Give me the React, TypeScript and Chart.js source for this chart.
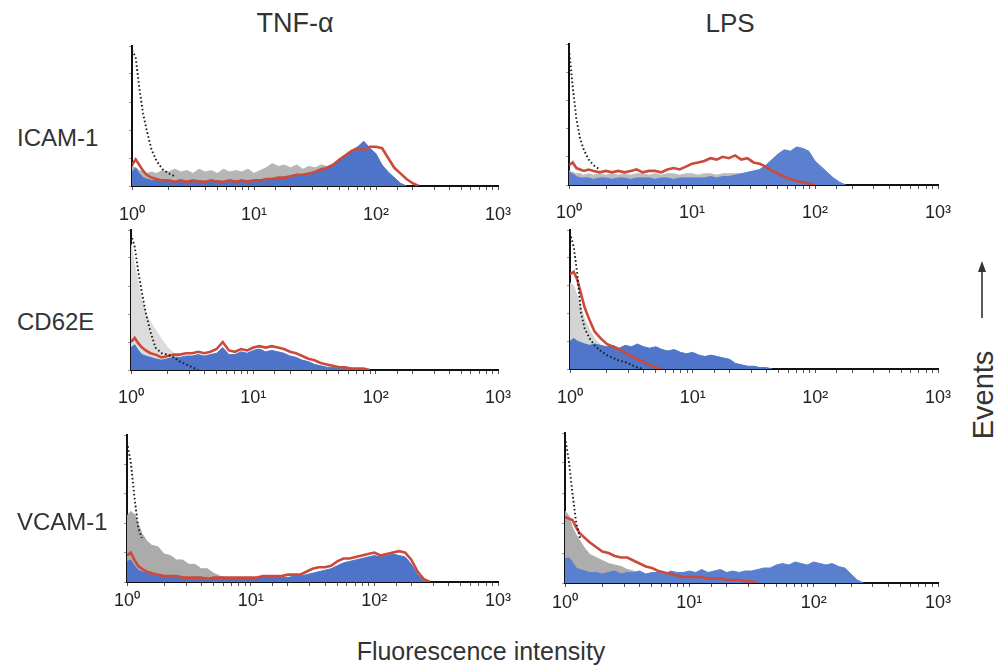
import React, { useEffect, useRef } from 'react';
import { Chart, registerables } from 'chart.js';
Chart.register(...registerables);

const FONT = "'Liberation Sans', Arial, Helvetica, sans-serif";

// log10 positions of histogram bins (x = 10^bin)
const BIN_LOG = [0, 0.03, 0.06, 0.09, 0.12, 0.16, 0.2, 0.25, 0.3, 0.35, 0.4, 0.45, 0.5, 0.55, 0.6, 0.65, 0.7, 0.75, 0.8, 0.85, 0.9, 0.95, 1.0, 1.05, 1.1, 1.15, 1.2, 1.25, 1.3, 1.35, 1.4, 1.45, 1.5, 1.55, 1.6, 1.65, 1.7, 1.75, 1.8, 1.85, 1.9, 1.95, 2.0, 2.05, 2.1, 2.15, 2.2, 2.25, 2.3, 2.35, 2.4, 2.45, 2.5];

const TICK_VALUES = [1, 10, 100, 1000];
const TICK_LABELS = ['10\u2070', '10\u00B9', '10\u00B2', '10\u00B3'];

const COLUMN_TITLES = ['TNF-\u03B1', 'LPS'];
const ROW_LABELS = ['ICAM-1', 'CD62E', 'VCAM-1'];
const X_TITLE = 'Fluorescence intensity';
const Y_TITLE = 'Events';

// ICAM-1 / TNF-α
const TL_DOT = [97, 92, 70, 52, 40, 26, 18, 12, 9, 7];
const TL_GREY = [14, 13, 11, 10, 9, 10, 9, 11, 10, 12, 10, 11, 9, 12, 10, 11, 9, 12, 10, 11, 10, 12, 9, 11, 13, 16, 14, 15, 13, 15, 12, 14, 13, 15, 14, 16, 19, 22, 25, 27, 28, 25, 21, 14, 8, 3, 0];
const TL_BLUE = [10, 13, 9, 6, 5, 4, 4, 3, 4, 3, 4, 3, 3, 4, 3, 3, 4, 3, 3, 4, 3, 4, 4, 4, 5, 5, 6, 6, 7, 7, 8, 9, 10, 11, 13, 16, 19, 22, 25, 28, 32, 27, 23, 15, 10, 6, 2, 0];
const TL_RED = [15, 19, 15, 11, 8, 6, 5, 4, 4, 3, 4, 3, 4, 3, 3, 4, 3, 3, 4, 3, 4, 3, 4, 4, 5, 5, 6, 6, 7, 8, 8, 9, 10, 12, 13, 15, 19, 22, 25, 27, 26, 28, 28, 27, 20, 13, 9, 5, 2, 0];

// ICAM-1 / LPS
const TR_DOT = [96, 70, 47, 33, 25, 18, 14, 11];
const TR_GREY = [10, 9, 8, 8, 7, 8, 7, 8, 7, 8, 7, 8, 7, 8, 8, 7, 8, 7, 8, 8, 7, 8, 8, 7, 8, 8, 7, 8, 8, 8, 8, 7, 7, 6, 5, 4, 2, 0];
const TR_BLUE = [9, 8, 6, 5, 5, 5, 4, 5, 5, 4, 5, 5, 4, 5, 5, 5, 4, 5, 5, 4, 5, 5, 5, 5, 5, 6, 5, 6, 6, 7, 8, 9, 10, 11, 14, 18, 22, 25, 24, 27, 26, 24, 17, 13, 9, 5, 2, 0];
const TR_RED = [14, 16, 12, 11, 10, 11, 10, 9, 10, 9, 10, 9, 10, 11, 9, 10, 10, 9, 11, 12, 11, 13, 15, 16, 17, 19, 18, 20, 19, 21, 18, 19, 16, 15, 13, 10, 8, 6, 4, 3, 2, 1, 0];

// CD62E / TNF-α
const ML_DOT = [97, 88, 70, 55, 41, 27, 16, 12, 11, 9, 6, 4, 2, 0];
const ML_GREY = [90, 75, 62, 50, 41, 34, 29, 22, 16, 12, 9, 7, 5, 4, 3, 2, 0];
const ML_BLUE = [16, 18, 14, 11, 10, 9, 8, 7, 8, 9, 9, 10, 10, 11, 10, 11, 12, 16, 11, 11, 13, 12, 14, 15, 13, 14, 13, 12, 10, 9, 7, 6, 4, 3, 2, 2, 1, 1, 0];
const ML_RED = [20, 23, 19, 16, 14, 12, 11, 9, 10, 11, 11, 12, 12, 13, 12, 13, 15, 20, 14, 13, 15, 14, 16, 17, 16, 17, 16, 15, 13, 12, 10, 8, 7, 5, 4, 3, 2, 2, 1, 1, 1, 0];

// CD62E / LPS
const MR_DOT = [98, 88, 68, 40, 29, 22, 17, 13, 10, 8, 6, 5, 3, 1, 0];
const MR_GREY = [62, 60, 52, 44, 36, 28, 22, 17, 13, 10, 8, 6, 4, 3, 2, 0];
const MR_BLUE = [20, 22, 20, 19, 18, 17, 18, 17, 16, 17, 15, 17, 16, 18, 16, 15, 16, 14, 13, 14, 12, 11, 12, 10, 9, 10, 9, 8, 7, 4, 3, 2, 2, 1, 1, 0];
const MR_RED = [68, 70, 64, 54, 44, 35, 27, 22, 18, 16, 14, 12, 9, 7, 5, 3, 1, 0];

// VCAM-1 / TNF-α
const BL_DOT = [95, 82, 58, 37, 30];
const BL_GREY = [45, 48, 46, 40, 33, 28, 25, 24, 19, 18, 15, 15, 12, 12, 9, 9, 6, 4, 3, 1, 0];
const BL_BLUE = [14, 15, 11, 8, 7, 6, 5, 4, 3, 3, 3, 3, 2, 3, 3, 3, 2, 3, 3, 3, 3, 3, 3, 3, 3, 3, 3, 3, 3, 4, 4, 5, 6, 7, 8, 9, 11, 13, 14, 15, 16, 17, 18, 17, 18, 19, 18, 17, 12, 5, 1, 0];
const BL_RED = [18, 20, 15, 11, 9, 7, 6, 5, 4, 4, 4, 3, 3, 3, 3, 2, 3, 3, 3, 3, 3, 3, 3, 3, 4, 4, 4, 4, 5, 5, 5, 7, 9, 10, 10, 11, 14, 16, 16, 17, 18, 19, 20, 18, 19, 20, 21, 20, 15, 7, 2, 0];

// VCAM-1 / LPS
const BR_DOT = [97, 82, 60, 40, 30];
const BR_GREY = [48, 45, 37, 32, 28, 23, 19, 17, 15, 13, 12, 11, 9, 8, 6, 5, 3, 1, 0];
const BR_BLUE = [16, 17, 14, 10, 9, 8, 7, 7, 6, 7, 8, 6, 7, 7, 8, 6, 7, 7, 6, 8, 7, 7, 8, 7, 9, 7, 8, 9, 7, 8, 7, 8, 8, 9, 10, 10, 12, 13, 12, 14, 13, 12, 14, 13, 12, 13, 11, 10, 6, 2, 0];
const BR_RED = [44, 43, 42, 37, 33, 30, 27, 24, 21, 20, 18, 17, 17, 15, 13, 11, 10, 8, 7, 6, 5, 4, 4, 4, 4, 3, 3, 3, 2, 2, 2, 1, 1, 0];

const RED = '#cc4a3c';
const DOT_COLOR = '#1c1c1c';

type PanelSpec = {
  x0: number; x3: number; top: number; base: number; tickPad: number;
  dot: number[]; grey: number[]; blue: number[]; red: number[];
  greyColor: string; blueColor: string;
};

const PAD_L = 22, PAD_R = 28, PAD_T = 6, AXIS_H = 44;

const PANELS: PanelSpec[] = [
  { x0: 127, x3: 498, top: 46, base: 186, tickPad: 14, dot: TL_DOT, grey: TL_GREY, blue: TL_BLUE, red: TL_RED, greyColor: '#b6b6b6', blueColor: '#4d74c9' },
  { x0: 565, x3: 938, top: 44, base: 185, tickPad: 13, dot: TR_DOT, grey: TR_GREY, blue: TR_BLUE, red: TR_RED, greyColor: '#bdbdbd', blueColor: '#5a80cf' },
  { x0: 127, x3: 498, top: 230, base: 370, tickPad: 13, dot: ML_DOT, grey: ML_GREY, blue: ML_BLUE, red: ML_RED, greyColor: '#dcdcdc', blueColor: '#4d74c9' },
  { x0: 565, x3: 938, top: 230, base: 369, tickPad: 14, dot: MR_DOT, grey: MR_GREY, blue: MR_BLUE, red: MR_RED, greyColor: '#d4d4d4', blueColor: '#4f76ca' },
  { x0: 127, x3: 498, top: 435, base: 582, tickPad: 4, dot: BL_DOT, grey: BL_GREY, blue: BL_BLUE, red: BL_RED, greyColor: '#ababab', blueColor: '#4d74c9' },
  { x0: 565, x3: 938, top: 433, base: 583, tickPad: 5, dot: BR_DOT, grey: BR_GREY, blue: BR_BLUE, red: BR_RED, greyColor: '#adadad', blueColor: '#5a7fcf' },
];

function toPoints(vals: number[]) {
  return vals.map((v, i) => ({ x: Math.pow(10, BIN_LOG[i]), y: v }));
}

function Panel({ spec }: { spec: PanelSpec }) {
  const ref = useRef<HTMLCanvasElement>(null);
  const width = spec.x3 - spec.x0 + PAD_L + PAD_R;
  const height = spec.base - spec.top + PAD_T + AXIS_H;
  useEffect(() => {
    if (!ref.current) return;
    const chart = new Chart(ref.current, {
      type: 'line',
      data: {
        datasets: [
          { data: toPoints(spec.dot), borderColor: DOT_COLOR, borderWidth: 1.9, borderDash: [1.6, 2.4], fill: false, pointRadius: 0, tension: 0, order: 1 },
          { data: toPoints(spec.red), borderColor: RED, borderWidth: 2.6, fill: false, pointRadius: 0, tension: 0, order: 2 },
          { data: toPoints(spec.blue), borderColor: spec.blueColor, backgroundColor: spec.blueColor, borderWidth: 1, fill: 'origin', pointRadius: 0, tension: 0, order: 3 },
          { data: toPoints(spec.grey), borderColor: spec.greyColor, backgroundColor: spec.greyColor, borderWidth: 1, fill: 'origin', pointRadius: 0, tension: 0, order: 4 },
        ],
      },
      options: {
        responsive: false,
        animation: false,
        events: [],
        layout: { padding: { left: PAD_L, right: PAD_R, top: PAD_T, bottom: 0 } },
        plugins: { legend: { display: false }, tooltip: { enabled: false } },
        scales: {
          x: {
            type: 'logarithmic',
            min: 1,
            max: 1000,
            afterFit: (s: any) => { s.height = AXIS_H; },
            border: { display: true, color: '#111', width: 2 },
            grid: { display: true, drawOnChartArea: false, drawTicks: true, tickLength: 4, color: '#555', lineWidth: 1 },
            ticks: {
              autoSkip: false,
              maxRotation: 0,
              padding: spec.tickPad,
              color: '#222',
              font: { family: FONT, size: 18 },
              callback: (value: any) => {
                const idx = TICK_VALUES.indexOf(Number(value));
                return idx >= 0 ? TICK_LABELS[idx] : '';
              },
            },
          },
          y: {
            min: 0,
            max: 100,
            afterFit: (s: any) => { s.width = 0; },
            border: { display: true, color: '#111', width: 2 },
            grid: { display: true, drawOnChartArea: false, drawTicks: true, tickLength: 3, color: '#999' },
            ticks: { display: false, stepSize: 20 },
          },
        },
      } as any,
    });
    return () => chart.destroy();
  }, []);
  return (
    <canvas
      ref={ref}
      width={width}
      height={height}
      style={{ position: 'absolute', left: spec.x0 - PAD_L, top: spec.top - PAD_T, width, height }}
    />
  );
}

const textStyle = (x: number, y: number, size: number, extra: any = {}) => ({
  position: 'absolute' as const,
  left: x,
  top: y,
  transform: 'translate(-50%, -50%)',
  fontFamily: FONT,
  fontSize: size,
  lineHeight: 1,
  color: '#333',
  whiteSpace: 'nowrap' as const,
  ...extra,
});

export default function App() {
  return (
    <div style={{ position: 'fixed', left: 0, top: 0, width: 994, height: 667, background: '#fff', overflow: 'hidden' }}>
      {PANELS.map((p, i) => <Panel key={i} spec={p} />)}
      <div style={textStyle(295, 23, 27)}>{COLUMN_TITLES[0]}</div>
      <div style={textStyle(730, 23, 26)}>{COLUMN_TITLES[1]}</div>
      <div style={{ ...textStyle(17, 138, 24), transform: 'translate(0, -50%)' }}>{ROW_LABELS[0]}</div>
      <div style={{ ...textStyle(17, 322, 24), transform: 'translate(0, -50%)' }}>{ROW_LABELS[1]}</div>
      <div style={{ ...textStyle(17, 522, 24), transform: 'translate(0, -50%)' }}>{ROW_LABELS[2]}</div>
      <div style={textStyle(481, 651, 25)}>{X_TITLE}</div>
      <div style={textStyle(983, 395, 29, { transform: 'translate(-50%, -50%) rotate(-90deg)' })}>{Y_TITLE}</div>
      <svg width={20} height={70} style={{ position: 'absolute', left: 972, top: 255 }}>
        <line x1={10} y1={63} x2={10} y2={14} stroke="#333" strokeWidth={1.6} />
        <polygon points="10,6 6,17 14,17" fill="#333" />
      </svg>
    </div>
  );
}
